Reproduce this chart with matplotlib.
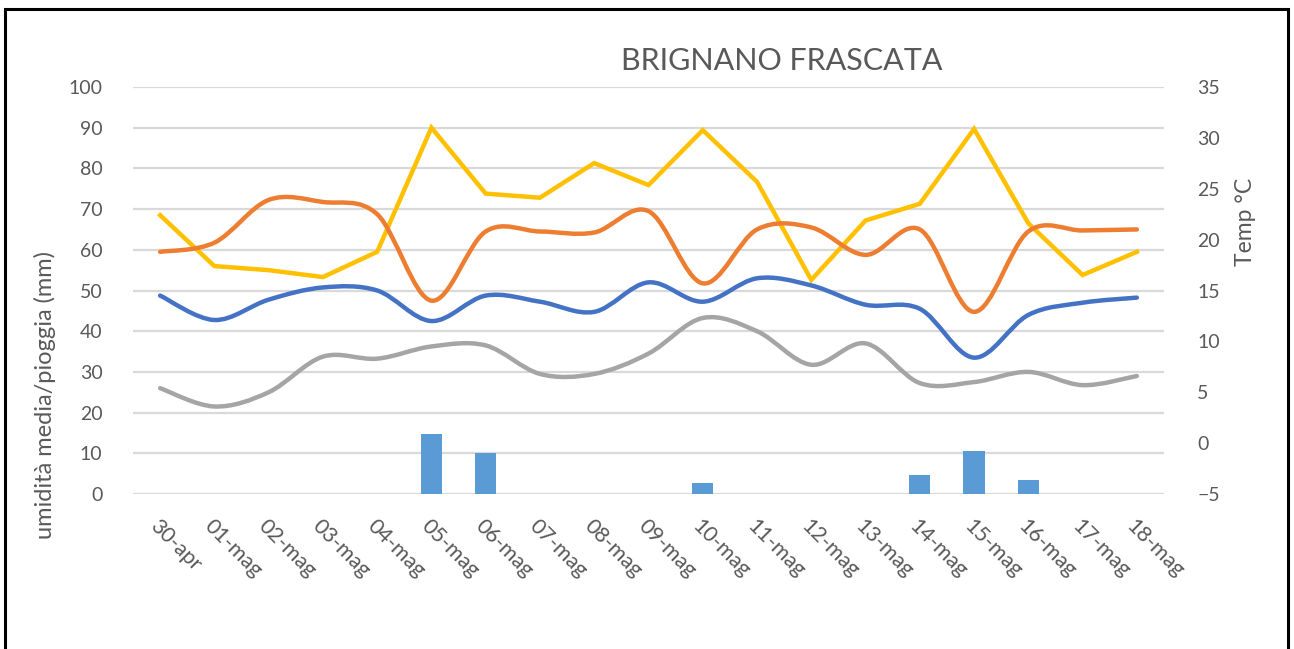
import numpy as np
import matplotlib
matplotlib.use("Agg")
import matplotlib.pyplot as plt
from matplotlib.path import Path
from matplotlib.patches import PathPatch, Rectangle

plt.rcParams['font.family'] = ['Lato', 'DejaVu Sans']

# data
days = ["30-apr", "01-mag", "02-mag", "03-mag", "04-mag", "05-mag", "06-mag",
        "07-mag", "08-mag", "09-mag", "10-mag", "11-mag", "12-mag", "13-mag",
        "14-mag", "15-mag", "16-mag", "17-mag", "18-mag"]
pioggia = [0, 0, 0, 0, 0, 14.7, 10.0, 0, 0, 0, 2.7, 0, 0, 0, 4.7, 10.6, 3.4, 0, 0]
umidita = [68.5, 56.0, 55.0, 53.3, 59.5, 90.0, 73.8, 72.8, 81.3, 75.9, 89.4,
           76.7, 52.6, 67.2, 71.3, 89.7, 66.5, 53.8, 59.5]
t_max = [18.8, 19.7, 23.9, 23.7, 22.5, 14.0, 20.8, 20.8, 20.7, 22.8, 15.7,
         21.0, 21.2, 18.5, 21.0, 12.9, 20.8, 20.9, 21.0]
t_med = [14.5, 12.1, 14.1, 15.3, 15.0, 12.0, 14.5, 13.9, 12.9, 15.8, 13.9,
         16.2, 15.5, 13.6, 13.2, 8.4, 12.6, 13.8, 14.3]
t_min = [5.4, 3.6, 5.0, 8.5, 8.3, 9.5, 9.6, 6.8, 6.8, 8.8, 12.3,
         11.0, 7.7, 9.8, 5.9, 6.0, 7.0, 5.7, 6.6]

TXT = "#595959"
GRID = "#D9D9D9"


def smooth_line(ax, xs, ys, color, lw):
    # excel-style smoothed line: cubic bezier through every point
    pts = np.column_stack([xs, ys]).astype(float)
    n = len(pts)
    verts = [pts[0]]
    codes = [Path.MOVETO]
    for i in range(n - 1):
        p0 = pts[max(i - 1, 0)]
        p1 = pts[i]
        p2 = pts[i + 1]
        p3 = pts[min(i + 2, n - 1)]
        verts += [p1 + (p2 - p0) / 6.0, p2 - (p3 - p1) / 6.0, p2]
        codes += [Path.CURVE4] * 3
    patch = PathPatch(Path(verts, codes), fill=False, edgecolor=color, lw=lw,
                      capstyle="round", joinstyle="round")
    ax.add_patch(patch)


W, H = 1294, 649
fig = plt.figure(figsize=(W / 100, H / 100), dpi=100)
ax = fig.add_axes([133 / W, 1 - 494 / H, (1164 - 133) / W, (494 - 87) / H])
ax2 = ax.twinx()

x = np.arange(len(days))
ax.bar(x, pioggia, width=0.39, color="#5B9BD5", zorder=2)
ax.plot(x, umidita, color="#FFC000", lw=3.2, solid_joinstyle="miter", zorder=3)

for ys, col in [(t_max, "#ED7D31"), (t_med, "#4472C4"), (t_min, "#A5A5A5")]:
    smooth_line(ax2, x, ys, col, 3.2)

ax.set_xlim(-0.5, len(days) - 0.5)
ax.set_ylim(0, 100)
ax.set_yticks(range(0, 101, 10))
ax2.set_ylim(-5, 35)
ax2.set_yticks(range(-5, 36, 5))
ax.grid(axis="y", color=GRID, lw=1.6, zorder=0)
ax.set_axisbelow(True)

for a in (ax, ax2):
    for s in a.spines.values():
        s.set_visible(False)
    a.tick_params(length=0, labelsize=14, labelcolor=TXT)
ax.tick_params(axis="y", pad=22)
ax2.tick_params(axis="y", pad=24)

ax.set_xticks(x)
ax.set_xticklabels(days, rotation=-45, ha="left", va="top", rotation_mode="anchor",
                   fontsize=15.5)
ax.tick_params(axis="x", pad=16)

fig.text(45 / W, 1 - 395 / H, "umidità media/pioggia (mm)", fontsize=17,
         color=TXT, rotation=90, ha="center", va="center")
fig.text(1245 / W, 1 - 222 / H, "Temp °C", fontsize=16.5, color=TXT,
         rotation=90, ha="center", va="center")

fig.text(782 / W, 1 - 61 / H, "BRIGNANO FRASCATA", fontsize=22, color=TXT,
         ha="center", va="center")

fig.patches.append(Rectangle((5 / W, -0.05), (1288 - 5) / W, 1.05 - 9 / H,
                             transform=fig.transFigure, fill=False,
                             edgecolor="black", lw=2.2))

fig.savefig("out.png", dpi=100)
